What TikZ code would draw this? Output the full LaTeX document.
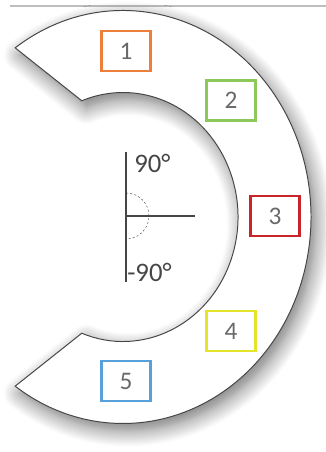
\documentclass[tikz,border=0pt]{standalone}
\usepackage{fontspec}
\setmainfont{Carlito}
\usepackage{xcolor}
\usepackage{tikz}
\usetikzlibrary{shadows.blur}

\definecolor{zoneorange}{RGB}{236,128,58}
\definecolor{zonegreen}{RGB}{140,200,90}
\definecolor{zonered}{RGB}{200,36,42}
\definecolor{zoneyellow}{RGB}{228,228,40}
\definecolor{zoneblue}{RGB}{88,160,218}
\definecolor{numgray}{RGB}{105,105,105}
\definecolor{axisgray}{RGB}{70,70,70}
\definecolor{rulegray}{RGB}{190,190,190}

\begin{document}
\begin{tikzpicture}[
        x=0.025cm, y=0.025cm,
        zone/.style={draw, rectangle, line width=2.1pt, fill=white, inner sep=0pt,
                     minimum width=1.225cm, minimum height=1.0cm,
                     text=numgray, font=\fontsize{18}{20}\selectfont},
        ring/.style={draw=axisgray, line width=0.7pt, fill=white,
                     blur shadow={shadow xshift=0.12cm, shadow yshift=-0.18cm,
                                  shadow blur radius=0.4cm, shadow blur steps=10, shadow opacity=55}},
        axis/.style={draw=axisgray, line width=0.8pt},
        deg/.style={anchor=west, inner sep=0pt, text=axisgray, font=\fontsize{19}{21}\selectfont}
    ]
    \useasboundingbox (0,0) rectangle (326,452);
    \draw[rulegray, line width=1.4pt] (10,446) -- (326,446);

    % Ring
    \coordinate (c) at (123,235);
    \draw[ring] ([shift={(125:188 and 206.5)}]c)
        arc[start angle=125, end angle=-125, x radius=188, y radius=206.5]
        -- ([shift={(-111:115 and 124.5)}]c)
        arc[start angle=-111, end angle=111, x radius=115, y radius=124.5]
        -- cycle;

    % Nodes
    \node[zone, draw=zoneorange] (zone1) at (126,401) {1};
    \node[zone, draw=zonegreen]  (zone2) at (231,351.5) {2};
    \node[zone, draw=zonered]    (zone3) at (275,236) {3};
    \node[zone, draw=zoneyellow] (zone4) at (231,121) {4};
    \node[zone, draw=zoneblue]   (zone5) at (126,71) {5};

    % Axes
    \coordinate (o) at (126,236);
    \coordinate (up) at (126,300);
    \coordinate (down) at (126,170);
    \coordinate (right) at (195,236);
    \draw[axis] (up) -- (down);
    \draw[axis] (o) -- (right);
    \draw[axisgray, line width=0.3pt, dash pattern=on 1.5pt off 1.5pt] ([shift={(90:23)}]o) arc[start angle=90, end angle=-90, radius=23];
    \node[deg] (plus) at (134,289) {90°};
    \node[deg] (minus) at (127,180) {-90°};
\end{tikzpicture}
\end{document}
